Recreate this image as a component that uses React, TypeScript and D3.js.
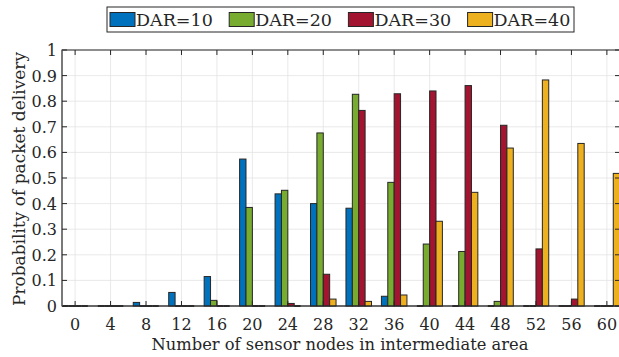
import * as d3 from 'd3';
import { useEffect, useRef } from 'react';

// categories (number of sensor nodes)
const nodes = [0, 4, 8, 12, 16, 20, 24, 28, 32, 36, 40, 44, 48, 52, 56, 60];
const seriesNames = ['DAR=10', 'DAR=20', 'DAR=30', 'DAR=40'];
const colors = ['#0072BD', '#77AC30', '#A2142F', '#EDB120'];

const dar10 = [0, 0, 0.014, 0.053, 0.115, 0.574, 0.438, 0.4, 0.382, 0.038, 0, 0, 0, 0, 0, 0];
const dar20 = [0, 0, 0, 0, 0.022, 0.385, 0.452, 0.676, 0.827, 0.483, 0.242, 0.213, 0.018, 0, 0, 0];
const dar30 = [0, 0, 0, 0, 0, 0, 0.01, 0.124, 0.764, 0.829, 0.84, 0.861, 0.706, 0.223, 0.027, 0];
const dar40 = [0, 0, 0, 0, 0, 0, 0, 0.027, 0.018, 0.043, 0.331, 0.444, 0.617, 0.883, 0.635, 0.518];

const yTicks = [0, 0.1, 0.2, 0.3, 0.4, 0.5, 0.6, 0.7, 0.8, 0.9, 1];
const yTickLabels = ['0', '0.1', '0.2', '0.3', '0.4', '0.5', '0.6', '0.7', '0.8', '0.9', '1'];

const App = () => {
    const ref = useRef<SVGSVGElement>(null);

    useEffect(() => {
        const font = "'DejaVu Serif', serif";
        const svg = d3.select(ref.current);
        svg.selectAll('*').remove();

        const left = 62;
        const right = 620;
        const top = 50;
        const bottom = 306;

        // index-based x scale
        const x = d3.scaleLinear().domain([-0.37, 15.37]).range([left, right]);
        const y = d3.scaleLinear().domain([0, 1]).range([bottom, top]);
        const inner = d3.scaleBand<number>().domain([0, 1, 2, 3]).range([-0.36, 0.36]);
        const bw = x(inner.bandwidth()) - x(0);

        const series = [dar10, dar20, dar30, dar40];

        // grid
        const grid = svg.append('g');
        grid.selectAll('.hg')
            .data(yTicks.slice(1))
            .enter()
            .append('line')
            .attr('x1', left)
            .attr('x2', right)
            .attr('y1', (d) => y(d))
            .attr('y2', (d) => y(d))
            .attr('stroke', '#e3e3e3')
            .attr('stroke-width', 0.8);
        grid.selectAll('.vg')
            .data(nodes)
            .enter()
            .append('line')
            .attr('x1', (_, i) => x(i))
            .attr('x2', (_, i) => x(i))
            .attr('y1', top)
            .attr('y2', bottom)
            .attr('stroke', '#e3e3e3')
            .attr('stroke-width', 0.8);

        // baseline
        svg.append('line')
            .attr('x1', left)
            .attr('x2', right)
            .attr('y1', y(0))
            .attr('y2', y(0))
            .attr('stroke', '#8c8c8c')
            .attr('stroke-width', 1.5);

        // bars (zero values show as an edge line on the baseline)
        series.forEach((vals, s) => {
            const g = svg.append('g');
            g.selectAll('rect')
                .data(vals.map((v, i) => ({ v, i })).filter((d) => d.v > 0))
                .enter()
                .append('rect')
                .attr('x', (d) => x(d.i + (inner(s) as number)))
                .attr('y', (d) => y(d.v))
                .attr('width', bw)
                .attr('height', (d) => y(0) - y(d.v))
                .attr('fill', colors[s])
                .attr('stroke', '#262626')
                .attr('stroke-width', 1);
            g.selectAll('line')
                .data(vals.map((v, i) => ({ v, i })).filter((d) => d.v === 0))
                .enter()
                .append('line')
                .attr('x1', (d) => x(d.i + (inner(s) as number)))
                .attr('x2', (d) => x(d.i + (inner(s) as number)) + bw)
                .attr('y1', y(0))
                .attr('y2', y(0))
                .attr('stroke', '#262626')
                .attr('stroke-width', 1.8);
        });

        // axes box
        const axisColor = '#262626';
        svg.append('rect')
            .attr('x', left)
            .attr('y', top)
            .attr('width', right - left)
            .attr('height', bottom - top)
            .attr('fill', 'none')
            .attr('stroke', axisColor)
            .attr('stroke-width', 1);
        svg.append('line')
            .attr('x1', left)
            .attr('x2', left)
            .attr('y1', top)
            .attr('y2', bottom)
            .attr('stroke', '#707070')
            .attr('stroke-width', 1.5);

        // tick marks
        const tk = 5;
        const ticks = svg.append('g').attr('stroke', axisColor).attr('stroke-width', 1);
        nodes.forEach((_, i) => {
            ticks.append('line').attr('x1', x(i)).attr('x2', x(i)).attr('y1', bottom).attr('y2', bottom - tk);
            ticks.append('line').attr('x1', x(i)).attr('x2', x(i)).attr('y1', top).attr('y2', top + tk);
        });
        yTicks.forEach((t) => {
            ticks.append('line').attr('x1', left).attr('x2', left + tk).attr('y1', y(t)).attr('y2', y(t));
            ticks.append('line').attr('x1', right).attr('x2', right - tk).attr('y1', y(t)).attr('y2', y(t));
        });

        // tick labels
        svg.append('g')
            .selectAll('text')
            .data(nodes)
            .enter()
            .append('text')
            .attr('x', (_, i) => x(i))
            .attr('y', 330)
            .attr('text-anchor', 'middle')
            .attr('font-family', font)
            .attr('font-size', 16)
            .attr('fill', '#262626')
            .text((d) => String(d));
        svg.append('g')
            .selectAll('text')
            .data(yTicks)
            .enter()
            .append('text')
            .attr('x', left - 5)
            .attr('y', (d) => y(d) + 6)
            .attr('text-anchor', 'end')
            .attr('font-family', font)
            .attr('font-size', 16)
            .attr('fill', '#262626')
            .text((_, i) => yTickLabels[i]);

        // axis labels
        svg.append('text')
            .attr('x', 340)
            .attr('y', 350)
            .attr('text-anchor', 'middle')
            .attr('font-family', font)
            .attr('font-size', 16.3)
            .attr('fill', '#262626')
            .text('Number of sensor nodes in intermediate area');
        svg.append('text')
            .attr('transform', `translate(25, ${(top + bottom) / 2 + 1}) rotate(-90)`)
            .attr('text-anchor', 'middle')
            .attr('font-family', font)
            .attr('font-size', 17)
            .attr('fill', '#262626')
            .text('Probability of packet delivery');

        // legend
        const lg = svg.append('g');
        lg.append('rect')
            .attr('x', 107)
            .attr('y', 7)
            .attr('width', 467)
            .attr('height', 25)
            .attr('fill', 'white')
            .attr('stroke', axisColor)
            .attr('stroke-width', 1);
        seriesNames.forEach((name, i) => {
            const gx = 110 + i * 119.2;
            lg.append('rect')
                .attr('x', gx)
                .attr('y', 12.5)
                .attr('width', 25)
                .attr('height', 14)
                .attr('fill', colors[i])
                .attr('stroke', axisColor)
                .attr('stroke-width', 1);
            lg.append('text')
                .attr('x', gx + 26)
                .attr('y', 26)
                .attr('font-family', font)
                .attr('font-size', 17.5)
                .attr('fill', '#262626')
                .text(name);
        });
    }, []);

    return (
        <svg
            ref={ref}
            width={619}
            height={357}
            style={{ position: 'absolute', left: 0, top: 0, background: 'white' }}
        />
    );
};

export default App;
